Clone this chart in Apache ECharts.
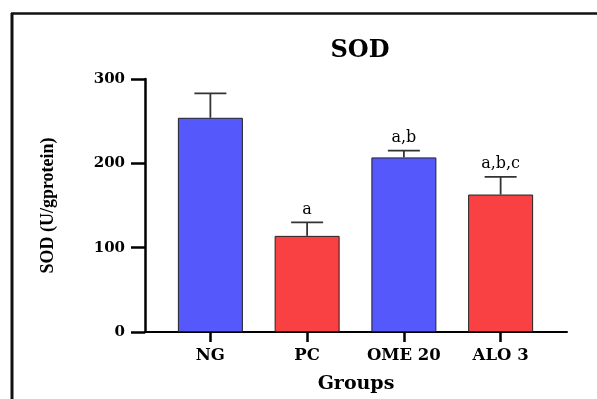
<!DOCTYPE html>
<html><head><meta charset="utf-8">
<script src="https://cdn.jsdelivr.net/npm/echarts@6/dist/echarts.min.js"></script>
<style>html,body{margin:0;padding:0;background:#fff}#c{width:597px;height:399px}</style>
</head><body><div id="c"></div>
<script>
const categories = ['NG', 'PC', 'OME 20', 'ALO 3'];
const means = [254, 114, 207, 163];
const errors = [29, 16, 8, 21];
const sigLabels = ['', 'a', 'a,b', 'a,b,c'];
const barColors = ['#5558FA', '#F94043', '#5558FA', '#F94043'];
const yTicks = [0, 100, 200, 300];

const serif = '"Liberation Serif", "DejaVu Serif", serif';
const wideSerif = '"DejaVu Serif", "Liberation Serif", serif';
const chart = echarts.init(document.getElementById('c'), null, {renderer: 'canvas'});
const gridTop = 79, gridHeight = 253;

chart.setOption({
  animation: false,
  backgroundColor: '#fff',
  title: {text: 'SOD', left: 355, top: 34, textAlign: 'center',
    textStyle: {fontFamily: wideSerif, fontWeight: 'bold', fontSize: 24, color: '#000'}},
  graphic: [
    {type: 'line', shape: {x1: 11, y1: 13.5, x2: 597, y2: 13.5}, style: {stroke: '#111', lineWidth: 2.5}},
    {type: 'line', shape: {x1: 12, y1: 13, x2: 12, y2: 399}, style: {stroke: '#111', lineWidth: 3}}
  ],
  grid: [
    {left: 145, width: 422, top: gridTop, height: gridHeight, containLabel: false, outerBoundsMode: 'none'},
    {left: 162, width: 387, top: gridTop, height: gridHeight, containLabel: false, outerBoundsMode: 'none'}
  ],
  xAxis: [
    {gridIndex: 0, type: 'value', min: 0, max: 1, axisLine: {show: true, onZero: false, lineStyle: {color: '#000', width: 2}},
      axisTick: {show: false}, axisLabel: {show: false}, splitLine: {show: false},
      name: 'Groups', nameLocation: 'middle', nameGap: 43,
      nameTextStyle: {fontFamily: wideSerif, fontWeight: 'bold', fontSize: 19, color: '#000', verticalAlign: 'top'}},
    {gridIndex: 1, type: 'category', data: categories,
      axisLine: {show: false}, axisTick: {show: true, alignWithLabel: true, interval: 0, length: 10, lineStyle: {color: '#000', width: 2.5}},
      axisLabel: {interval: 0, hideOverlap: false, fontFamily: wideSerif, fontWeight: 'bold', fontSize: 16.5, color: '#000', margin: 15}}
  ],
  yAxis: [
    {gridIndex: 0, type: 'value', min: 0, max: 300, interval: 100,
      axisLine: {show: true, lineStyle: {color: '#000', width: 2.5}},
      axisTick: {show: true, length: 14, lineStyle: {color: '#000', width: 2.5}},
      axisLabel: {fontFamily: wideSerif, fontWeight: 'bold', fontSize: 15, color: '#000', margin: 20,
        formatter: v => yTicks.includes(v) ? String(v) : ''},
      splitLine: {show: false},
      name: 'SOD (U/gprotein)', nameLocation: 'middle', nameGap: 88, nameRotate: 90,
      nameTextStyle: {fontFamily: serif, fontWeight: 'bold', fontSize: 18, color: '#000'}},
    {gridIndex: 1, type: 'value', min: 0, max: 300, show: false}
  ],
  series: [
    {type: 'bar', xAxisIndex: 1, yAxisIndex: 1, barWidth: 65,
      data: means.map((v, i) => ({value: v, itemStyle: {color: barColors[i], borderColor: '#222', borderWidth: 1}}))},
    {type: 'custom', xAxisIndex: 1, yAxisIndex: 1, z: 5,
      data: means.map((v, i) => [i, v, errors[i]]),
      renderItem: function (params, api) {
        const i = api.value(0), m = api.value(1), e = api.value(2);
        const p0 = api.coord([i, m]);
        const p1 = api.coord([i, m + e]);
        const hw = 16;
        const children = [
          {type: 'line', shape: {x1: p0[0], y1: p0[1], x2: p1[0], y2: p1[1]}, style: {stroke: '#333', lineWidth: 1.8}},
          {type: 'line', shape: {x1: p1[0] - hw, y1: p1[1], x2: p1[0] + hw, y2: p1[1]}, style: {stroke: '#333', lineWidth: 1.8}}
        ];
        const lbl = sigLabels[params.dataIndex];
        if (lbl) {
          children.push({type: 'text', x: p1[0], y: p1[1] - 5,
            style: {text: lbl, align: 'center', verticalAlign: 'bottom', font: '16px ' + wideSerif, fill: '#000'}});
        }
        return {type: 'group', children: children};
      }}
  ]
});
</script></body></html>
